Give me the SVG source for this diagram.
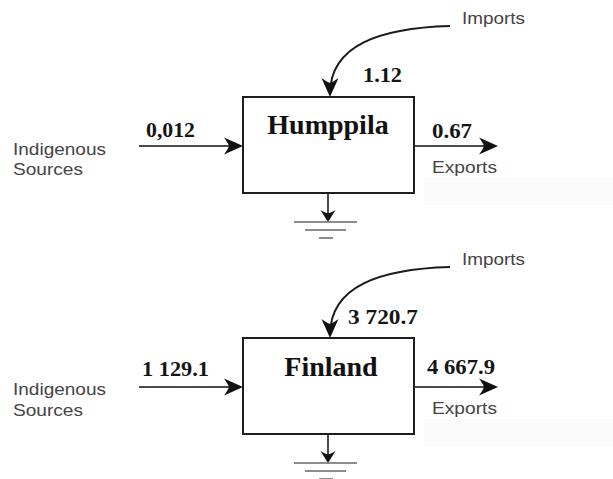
<svg xmlns="http://www.w3.org/2000/svg" width="613" height="479" viewBox="0 0 613 479">
  <style>
    .box { fill: #fff; stroke: #1e1e1e; stroke-width: 2; }
    .title { font-family: "Liberation Serif", "Times New Roman", serif; font-weight: bold; font-size: 28px; fill: #111; text-anchor: middle; }
    .num { font-family: "Liberation Serif", "Times New Roman", serif; font-weight: bold; font-size: 20px; fill: #151515; }
    .lbl { font-family: "Liberation Sans", Arial, sans-serif; font-size: 17px; fill: #444; }
    .shaft { fill: none; stroke: #4a4a4a; stroke-width: 2; }
    .curve { fill: none; stroke: #1a1a1a; stroke-width: 2; }
    .ground { stroke: #8c8c8c; stroke-width: 2; }
    .band { fill: #fafafa; }
  </style>
  <defs>
    <marker id="head" viewBox="-20 -10 21 20" refX="-3" refY="0" markerWidth="21" markerHeight="20" markerUnits="userSpaceOnUse" orient="auto">
      <path d="M0,0 L-19,-8.5 Q-15,-3 -14,0 Q-15,3 -19,8.5 Z" fill="#111"/>
    </marker>
    <marker id="headS" viewBox="-14 -9 15 18" refX="-3" refY="0" markerWidth="15" markerHeight="18" markerUnits="userSpaceOnUse" orient="auto">
      <path d="M0,0 L-12,-7.5 Q-9,-3 -8.5,0 Q-9,3 -12,7.5 Z" fill="#111"/>
    </marker>
  </defs>

  <rect width="613" height="479" fill="#fff"/>
  <!-- light shaded strips beside the export labels -->
  <rect class="band" x="424" y="178" width="189" height="27"/>
  <rect class="band" x="424" y="419" width="189" height="27"/>

  <!-- connectors -->
  <g id="connectors">
    <!-- Humppila -->
    <path class="curve" d="M450,26 C380,28 330,45 330,94" marker-end="url(#head)"/>
    <line class="shaft" x1="139" y1="146" x2="240" y2="146" marker-end="url(#head)"/>
    <line class="shaft" x1="414" y1="146" x2="495" y2="146" marker-end="url(#head)"/>
    <line class="shaft" x1="328" y1="193" x2="328" y2="219" marker-end="url(#headS)"/>
    <line class="ground" x1="294" y1="222" x2="357" y2="222"/>
    <line class="ground" x1="305" y1="230" x2="346" y2="230"/>
    <line class="ground" x1="319" y1="238" x2="333" y2="238"/>
    <!-- Finland -->
    <path class="curve" d="M450,267 C380,269 330,286 330,335" marker-end="url(#head)"/>
    <line class="shaft" x1="139" y1="387" x2="240" y2="387" marker-end="url(#head)"/>
    <line class="shaft" x1="414" y1="387" x2="495" y2="387" marker-end="url(#head)"/>
    <line class="shaft" x1="328" y1="434" x2="328" y2="460" marker-end="url(#headS)"/>
    <line class="ground" x1="294" y1="463" x2="357" y2="463"/>
    <line class="ground" x1="305" y1="471" x2="346" y2="471"/>
    <line class="ground" x1="319" y1="479" x2="333" y2="479"/>
  </g>

  <!-- Humppila balance -->
  <g id="humppila">
    <rect class="box" x="243" y="97" width="171" height="96"/>
    <text class="title" x="328" y="134">Humppila</text>
  </g>
  <g id="humppila-labels">
    <text class="lbl" x="462" y="24" textLength="63" lengthAdjust="spacingAndGlyphs">Imports</text>
    <text class="num" x="363" y="82" textLength="39" lengthAdjust="spacingAndGlyphs">1.12</text>
    <text class="num" x="146" y="137" textLength="49" lengthAdjust="spacingAndGlyphs">0,012</text>
    <text class="num" x="432" y="138" textLength="40" lengthAdjust="spacingAndGlyphs">0.67</text>
    <text class="lbl" x="432" y="173" textLength="65" lengthAdjust="spacingAndGlyphs">Exports</text>
    <text class="lbl" x="13" y="155" textLength="93" lengthAdjust="spacingAndGlyphs">Indigenous</text>
    <text class="lbl" x="13" y="175" textLength="70" lengthAdjust="spacingAndGlyphs">Sources</text>
  </g>

  <!-- Finland balance -->
  <g id="finland">
    <rect class="box" x="243" y="338" width="171" height="96"/>
    <text class="title" x="331" y="376">Finland</text>
  </g>
  <g id="finland-labels">
    <text class="lbl" x="462" y="265" textLength="63" lengthAdjust="spacingAndGlyphs">Imports</text>
    <text class="num" x="348" y="324" textLength="70" lengthAdjust="spacingAndGlyphs">3 720.7</text>
    <text class="num" x="142" y="376" textLength="67" lengthAdjust="spacingAndGlyphs">1 129.1</text>
    <text class="num" x="427" y="374" textLength="68" lengthAdjust="spacingAndGlyphs">4 667.9</text>
    <text class="lbl" x="432" y="414" textLength="65" lengthAdjust="spacingAndGlyphs">Exports</text>
    <text class="lbl" x="13" y="395" textLength="93" lengthAdjust="spacingAndGlyphs">Indigenous</text>
    <text class="lbl" x="13" y="416" textLength="70" lengthAdjust="spacingAndGlyphs">Sources</text>
  </g>
</svg>
